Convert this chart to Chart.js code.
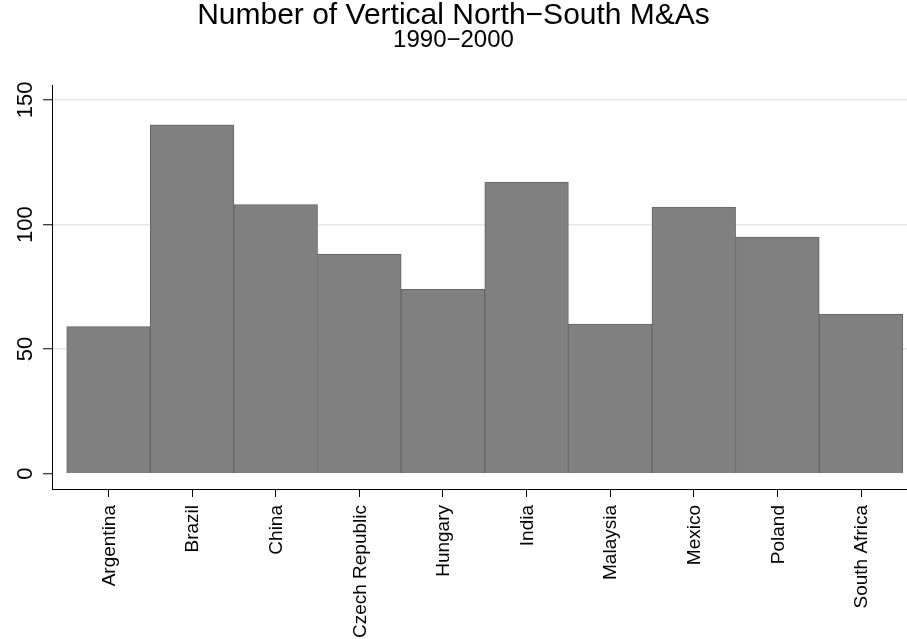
<!DOCTYPE html>
<html>
<head>
<meta charset="utf-8">
<script src="https://cdn.jsdelivr.net/npm/chart.js@4/dist/chart.umd.min.js"></script>
<style>
html,body{margin:0;padding:0;background:#fff;}
#wrap{width:907px;height:639px;position:relative;}
</style>
</head>
<body>
<div id="wrap"><canvas id="c" width="907" height="639"></canvas></div>
<script>
const categories = ["Argentina","Brazil","China","Czech Republic","Hungary","India","Malaysia","Mexico","Poland","South Africa"];
const mnaCounts = [59,140,108,88,74,117,60,107,95,64];
const yTickValues = [0,50,100,150];
const titleText = "Number of Vertical North\u2212South M&As";
const subtitleText = "1990\u22122000";

const FONT = "'Liberation Sans', Arial, sans-serif";

const labelPlugin = {
  id: 'customLabels',
  afterDraw(chart) {
    const ctx = chart.ctx;
    const xs = chart.scales.x, ys = chart.scales.y;
    ctx.save();
    ctx.fillStyle = '#000';
    ctx.font = "22px " + FONT;
    ctx.textAlign = 'center';
    ctx.textBaseline = 'alphabetic';
    yTickValues.forEach(v => {
      const y = ys.getPixelForValue(v);
      ctx.save();
      ctx.translate(32, y);
      ctx.rotate(-Math.PI/2);
      ctx.fillText(String(v), 0, 0);
      ctx.restore();
    });
    ctx.font = "19px " + FONT;
    ctx.textAlign = 'right';
    ctx.textBaseline = 'middle';
    categories.forEach((c, i) => {
      const x = xs.getPixelForValue(i);
      ctx.save();
      ctx.translate(x + 1, 505);
      ctx.rotate(-Math.PI/2);
      ctx.fillText(c, 0, 0);
      ctx.restore();
    });
    ctx.restore();
  }
};

new Chart(document.getElementById('c'), {
  type: 'bar',
  data: {
    datasets: [{
      data: mnaCounts.map((v, i) => ({x: i, y: v})),
      backgroundColor: '#808080',
      borderColor: '#666666',
      borderWidth: 1,
      barPercentage: 1,
      categoryPercentage: 1
    }]
  },
  options: {
    responsive: false,
    animation: false,
    devicePixelRatio: 1,
    layout: { padding: 0 },
    plugins: {
      legend: { display: false },
      tooltip: { enabled: false },
      title: {
        display: true,
        text: titleText,
        color: '#000',
        font: { family: FONT, size: 30, weight: 'normal', lineHeight: 1 },
        padding: { top: 0.5, bottom: 0 }
      },
      subtitle: {
        display: true,
        text: subtitleText,
        color: '#000',
        font: { family: FONT, size: 24, weight: 'normal', lineHeight: 0.85 },
        padding: { top: 0, bottom: 34.1 }
      }
    },
    scales: {
      x: {
        type: 'linear',
        offset: false,
        min: -0.676,
        max: 9.55,
        afterBuildTicks: s => { s.ticks = categories.map((_, i) => ({ value: i })); },
        afterFit: s => { s.height = 150; },
        ticks: { display: false },
        grid: { offset: false, drawOnChartArea: false, drawTicks: true, tickLength: 8, tickColor: '#000', color: '#000' },
        border: { display: true, color: '#000', width: 1 }
      },
      y: {
        min: -6.14,
        max: 156,
        afterBuildTicks: s => { s.ticks = yTickValues.map(v => ({ value: v })); },
        afterFit: s => { s.width = 52; },
        ticks: { display: false },
        grid: {
          color: ctx => (ctx.tick && ctx.tick.value === 0) ? 'rgba(0,0,0,0)' : '#e6e6e6',
          lineWidth: 1.5,
          tickLength: 9,
          tickColor: '#000',
          tickWidth: 1
        },
        border: { display: true, color: '#000', width: 1 }
      }
    }
  },
  plugins: [labelPlugin]
});
</script>
</body>
</html>
